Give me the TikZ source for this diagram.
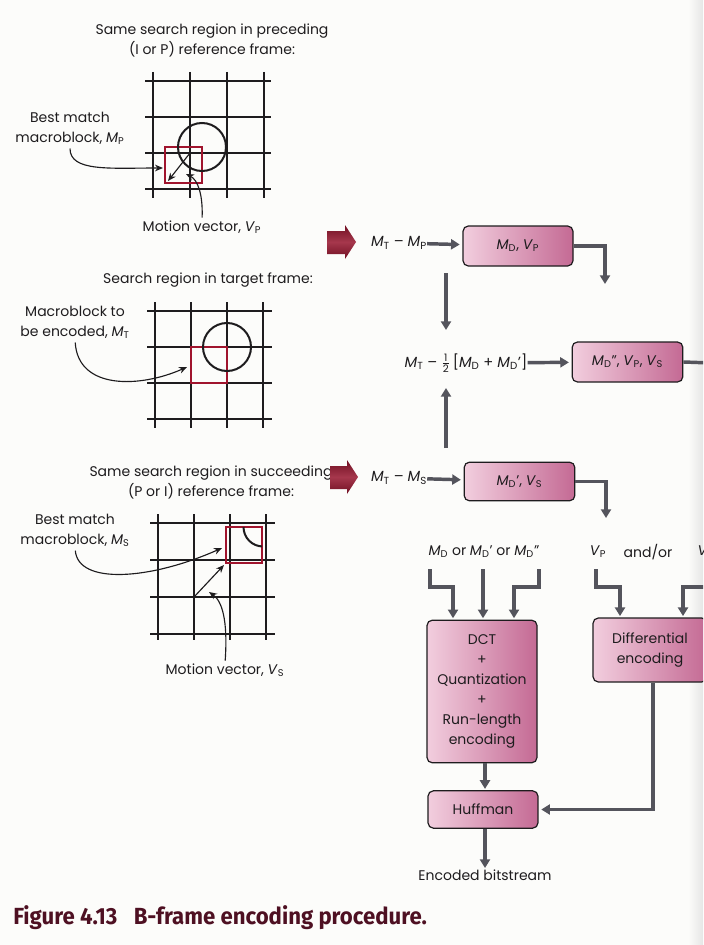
\documentclass[tikz,border=0pt]{standalone}
\usepackage{amsmath}
\usepackage{fontspec}
\setmainfont{Poppins}
\newfontfamily\capfont[FakeStretch=0.95]{Fira Sans}
\usepackage{tikz}
\usetikzlibrary{positioning,arrows.meta,calc}
\usepackage{xcolor}
\definecolor{paper}{RGB}{252,252,250}
\definecolor{inkblack}{RGB}{30,28,30}
\definecolor{framered}{RGB}{160,20,45}
\definecolor{boxlight}{RGB}{242,206,222}
\definecolor{boxdark}{RGB}{196,106,148}
\definecolor{flowgray}{RGB}{84,84,92}
\definecolor{blockred}{RGB}{150,20,45}
\definecolor{captionred}{RGB}{78,16,34}
\newcommand{\labelsize}{\fontsize{10.5}{15}\selectfont}
\newcommand{\msub}[2]{\textit{#1}\textsubscript{#2}}

\begin{document}
\begin{tikzpicture}[
  x=0.75pt,y=-0.75pt,
  >={Triangle[length=6.5pt,width=7.5pt]},
  lbl/.style={font=\labelsize,align=center,inner sep=0pt,text=inkblack},
  gridline/.style={line width=1.5pt,inkblack},
  mblock/.style={draw=framered,line width=1.8pt},
  pointer/.style={-{Stealth[length=6pt,width=5pt]},line width=0.85pt,inkblack},
  stagebox/.style={draw=inkblack,line width=0.9pt,rounded corners=4pt,left color=boxlight,right color=boxdark,font=\fontsize{10.5}{15}\selectfont,text=inkblack,align=center,inner sep=2pt},
  flow/.style={->,flowgray,line width=2.6pt}
]
\useasboundingbox (0,0) rectangle (703,945);
\clip (0,0) rectangle (703,945);
\fill[paper] (0,0) rectangle (703,945);
\shade[left color=paper,right color=black!10] (688,0) rectangle (703,945);

% preceding reference frame
\node[lbl] (prectitle) at (212,40) {Same search region in preceding\\(I or P) reference frame:};
\begin{scope}[shift={(153,81)}]
  \foreach \k in {0,1,2,3} {
    \draw[gridline] (37*\k,-9) -- (37*\k,117);
    \draw[gridline] (-8,36*\k) -- (118,36*\k);
  }
\end{scope}
\draw[mblock] (165,147) rectangle (202,183);
\draw[gridline] (202,147) circle[radius=24];
\coordinate (mvpstart) at (190,153);
\coordinate (mvpend) at (168,181);
\draw[pointer] (mvpstart) -- (mvpend);
\node[lbl] (bestp) at (70,128) {Best match\\macroblock, \msub{M}{P}};
\coordinate (bestpto) at (163,168);
\draw[pointer,shorten <=3pt] (bestp.south) .. controls (70,172) and (110,168) .. (bestpto);
\node[lbl] (mvp) at (202,227) {Motion vector, \msub{V}{P}};
\coordinate (mvpto) at (186,174);
\draw[pointer,shorten <=2pt] (mvp.north) .. controls (203,195) and (198,180) .. (mvpto);

% target frame
\node[lbl] (targtitle) at (208,280) {Search region in target frame:};
\begin{scope}[shift={(155,311)}]
  \foreach \k in {0,1,2,3} {
    \draw[gridline] (36*\k,-9) -- (36*\k,117);
    \draw[gridline] (-8,36*\k) -- (117,36*\k);
  }
\end{scope}
\draw[mblock] (191,347) rectangle (227,383);
\draw[gridline] (227,347) circle[radius=24];
\node[lbl] (mtlabel) at (75,322) {Macroblock to\\be encoded, \msub{M}{T}};
\coordinate (mtto) at (187,367);
\draw[pointer,shorten <=3pt] (mtlabel.south) .. controls (78,390) and (140,388) .. (mtto);

% succeeding reference frame
\node[lbl] (succtitle) at (211,482) {Same search region in succeeding\\(P or I) reference frame:};
\begin{scope}[shift={(158,523)}]
  \foreach \k in {0,1,2,3} {
    \draw[gridline] (36*\k,-9) -- (36*\k,117);
    \draw[gridline] (-8,37*\k) -- (117,37*\k);
  }
\end{scope}
\draw[mblock] (226,527) rectangle (262,563);
\begin{scope}
  \clip (226,527) rectangle (262,563);
  \draw[gridline] (263,527) circle[radius=19.5];
\end{scope}
\coordinate (mvsstart) at (194,597);
\coordinate (mvsend) at (224,565);
\draw[pointer] (mvsstart) -- (mvsend);
\node[lbl] (bests) at (75,530) {Best match\\macroblock, \msub{M}{S}};
\coordinate (bestsito) at (222,548);
\draw[pointer,shorten <=3pt] (bests.south) .. controls (78,585) and (150,580) .. (bestsito);
\node[lbl] (mvs) at (225,670) {Motion vector, \msub{V}{S}};
\coordinate (mvsto) at (209,592);
\draw[pointer,shorten <=2pt] (mvs.north) .. controls (228,620) and (222,601) .. (mvsto);

% block arrows into the differences
\shade[top color=blockred!75!black,bottom color=blockred!75!black,middle color=blockred!85!white]
  (327,231) -- (345,231) -- (345,225) -- (356,242) -- (345,259) -- (345,254) -- (327,254) -- cycle;
\shade[top color=blockred!75!black,bottom color=blockred!75!black,middle color=blockred!85!white]
  (330,466) -- (347,466) -- (347,460) -- (358,477) -- (347,494) -- (347,489) -- (330,489) -- cycle;

% difference terms and their results
\node[lbl,font=\fontsize{11}{15}\selectfont] (dp) at (399,243) {\msub{M}{T} -- \msub{M}{P}};
\node[stagebox,minimum width=82.5pt,minimum height=30pt] (mdvp) at (518,246) {\msub{M}{D}, \msub{V}{P}};
\draw[flow,shorten >=2pt] (dp) -- (mdvp);
\coordinate (vpdrop) at (605,284);
\draw[flow] (mdvp.east) -| (vpdrop);

\node[lbl,font=\fontsize{11}{15}\selectfont] (avg) at (466,363) {\msub{M}{T} -- \(\tfrac{\text{1}}{\text{2}}\)\,[\msub{M}{D} + \msub{M}{D}']};
\node[stagebox,minimum width=83pt,minimum height=30pt] (mdpp) at (627.5,362) {\msub{M}{D}'', \msub{V}{P}, \msub{V}{S}};
\draw[flow,shorten >=2pt] (avg) -- (mdpp);
\coordinate (offright) at (712,363);
\draw[flow,-] (mdpp.east) -- (offright);
\coordinate (splitp) at (446,273);
\coordinate (avgtop) at (446,330);
\draw[flow] (splitp) -- (avgtop);
\coordinate (splits) at (446,448);
\coordinate (avgbot) at (446,388);
\draw[flow] (splits) -- (avgbot);

\node[lbl,font=\fontsize{11}{15}\selectfont] (ds) at (399,478) {\msub{M}{T} -- \msub{M}{S}};
\node[stagebox,minimum width=83pt,minimum height=29pt] (mdvs) at (519.5,481.5) {\msub{M}{D}', \msub{V}{S}};
\draw[flow,shorten >=2pt] (ds) -- (mdvs);
\coordinate (vsdrop) at (606,518);
\draw[flow] (mdvs.east) -| (vsdrop);

% encoding stages
\node[lbl] (mdchoice) at (484,552) {\msub{M}{D} or \msub{M}{D}' or \msub{M}{D}''};
\node[lbl] (vplabel) at (598,552) {\msub{V}{P}};
\node[lbl] (andor) at (648,552) {and/or};
\node[lbl] (vslabel) at (706,552) {\msub{V}{S}};

\node[stagebox,minimum width=82.5pt,minimum height=107pt] (dct) at (482,691.5) {DCT\\+\\Quantization\\+\\Run-length\\encoding};
\node[stagebox,minimum width=82.5pt,minimum height=28pt] (huff) at (483,809.5) {Huffman};
\node[stagebox,minimum width=85.5pt,minimum height=48pt] (diff) at (650,650) {Differential\\encoding};
\node[lbl] (bitstream) at (485,875) {Encoded bitstream};

\draw[flow,shorten >=1pt] (430,569) -- (430,587) -- (453,587) -- (dct.north -| 453,0);
\draw[flow,shorten >=1pt] (483,569) -- (dct.north -| 483,0);
\draw[flow,shorten >=1pt] (539,569) -- (539,587) -- (514,587) -- (dct.north -| 514,0);
\draw[flow,shorten >=1pt] (596,569) -- (596,587) -- (620,587) -- (diff.north -| 620,0);
\draw[flow,shorten >=1pt] (712,587) -- (683,587) -- (diff.north -| 683,0);
\draw[flow,shorten >=1pt] (dct.south -| 485,0) -- (huff.north -| 485,0);
\draw[flow,shorten >=2pt] (diff.south -| 653,0) |- (huff.east);
\draw[flow,shorten >=1pt] (huff.south -| 485,0) -- (bitstream.north -| 485,0);

% caption
\node[anchor=west,inner sep=0pt,font=\capfont\bfseries\fontsize{17.5}{20}\selectfont,text=captionred] (caption) at (13,918) {Figure 4.13\hspace{0.7em}B-frame encoding procedure.};
\end{tikzpicture}
\end{document}
